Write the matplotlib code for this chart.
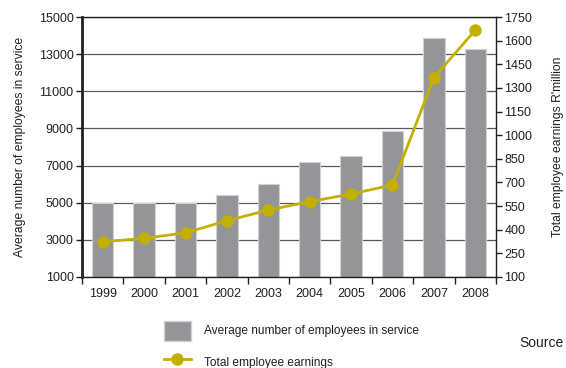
import matplotlib.pyplot as plt
import numpy as np
from matplotlib.patches import Patch
from matplotlib.lines import Line2D

plt.rcParams['font.family'] = ['Liberation Sans', 'DejaVu Sans']

years = ['1999', '2000', '2001', '2002', '2003', '2004', '2005', '2006', '2007', '2008']
employees = [5000, 5000, 5000, 5400, 6000, 7200, 7530, 8860, 13850, 13260]
earnings = [324, 345, 381, 457, 525, 578, 627, 684, 1365, 1667]

left_ticks = [1000, 3000, 5000, 7000, 9000, 11000, 13000, 15000]
right_ticks = [100, 250, 400, 550, 700, 850, 1000, 1150, 1300, 1450, 1600, 1750]

bar_color = '#939598'
line_color = '#c4b000'
text_color = '#231f20'

fig = plt.figure(figsize=(5.66, 3.68), dpi=100)
ax = fig.add_axes([0.1449, 0.2473, 0.7314, 0.7065])

x = np.arange(len(years))
ax.bar(x, employees, width=0.52, color=bar_color, edgecolor='#d0d1d3',
       linewidth=0.8, zorder=2)
ax.set_ylim(1000, 15000)
ax.set_xlim(-0.5, len(years) - 0.5)
ax.set_yticks(left_ticks)
ax.yaxis.grid(True, color='#58595b', linewidth=0.9, zorder=0)
ax.set_axisbelow(True)

# category labels centred, tick marks on the boundaries
ax.set_xticks(x)
ax.set_xticklabels(years)
ax.set_xticks(np.arange(len(years) + 1) - 0.5, minor=True)
ax.tick_params(axis='x', which='major', length=0, pad=8, labelsize=9,
               colors=text_color)
ax.tick_params(axis='x', which='minor', length=5, width=1, color='#231f20')
ax.tick_params(axis='y', length=4, width=1, labelsize=9, colors=text_color,
               pad=2)

for side in ['top', 'right', 'bottom']:
    ax.spines[side].set_linewidth(1)
    ax.spines[side].set_color('#231f20')
ax.spines['left'].set_linewidth(2)
ax.spines['left'].set_color('#231f20')

ax.set_ylabel('Average number of employees in service', fontsize=8.7,
              color=text_color, labelpad=9)

ax2 = ax.twinx()
ax2.plot(x, earnings, color=line_color, linewidth=2, marker='o',
         markersize=8, zorder=3)
ax2.set_ylim(100, 1750)
ax2.set_yticks(right_ticks)
ax2.tick_params(axis='y', length=4, width=1, labelsize=9,
                colors=text_color, pad=2)
for side in ['top', 'right', 'left', 'bottom']:
    ax2.spines[side].set_visible(False)
ax.spines['right'].set_zorder(5)
ax2.set_ylabel("Total employee earnings R'million", fontsize=8.7,
               color=text_color, labelpad=14)

handles = [Patch(facecolor=bar_color, edgecolor='#d0d1d3'),
           Line2D([0], [0], color=line_color, linewidth=2, marker='o',
                  markersize=8)]
labels = ['Average number of employees in service', 'Total employee earnings']
fig.legend(handles, labels, loc='upper left',
           bbox_to_anchor=(153 / 566, 1 - 310 / 368), frameon=False,
           fontsize=8.6, handlelength=2.3, handleheight=2.2,
           labelspacing=0.95, handletextpad=1.1, labelcolor=text_color)

fig.text(519 / 566, 1 - 343 / 368, 'Source', fontsize=10, color=text_color,
         va='center', ha='left')

fig.savefig('out.png', dpi=100)
